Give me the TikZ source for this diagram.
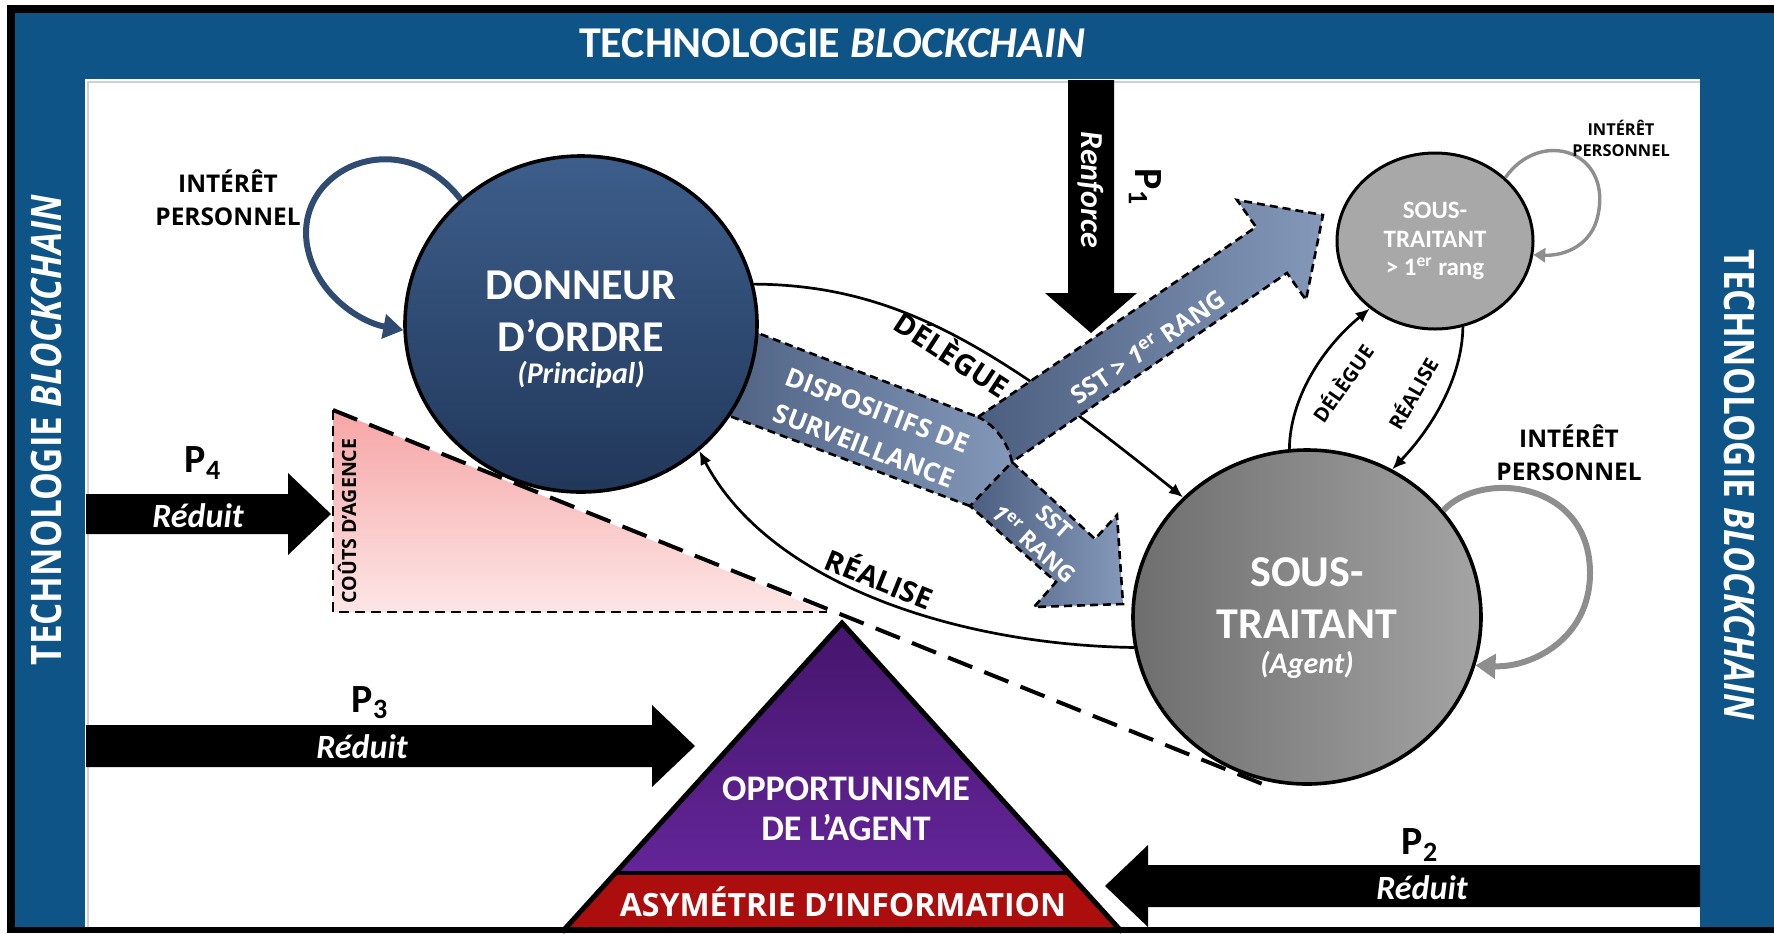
\documentclass[tikz,border=0pt]{standalone}
\usepackage{fontspec}
\setmainfont{Carlito}
\newfontfamily\opensans{Open Sans}
\usepackage{tikz}
\usetikzlibrary{positioning}
\usetikzlibrary{arrows.meta, shapes.geometric}

\definecolor{frameblue}{HTML}{0F5486}
\definecolor{donneurtop}{HTML}{3D5E8B}
\definecolor{donneurbot}{HTML}{21375A}
\definecolor{loopblue}{HTML}{2F4B72}
\definecolor{sstdark}{HTML}{4B5E7F}
\definecolor{sstlight}{HTML}{8498B9}
\definecolor{agentdark}{HTML}{6E6E6E}
\definecolor{agentlight}{HTML}{A4A4A4}
\definecolor{subgrey}{HTML}{A8A8A8}
\definecolor{loopgrey}{HTML}{8E8E8E}
\definecolor{pinkdark}{HTML}{F6A5A5}
\definecolor{pinklight}{HTML}{FDE6E6}
\definecolor{oppdark}{HTML}{45156C}
\definecolor{opplight}{HTML}{6B29A2}
\definecolor{asymred}{HTML}{AC0D0D}

\begin{document}
\begin{tikzpicture}[x=0.5pt, y=-0.5pt]

 \tikzset{
 	actor/.style={ellipse, draw=black, line width=1.8pt, inner sep=0pt},
 	actorname/.style={text=white, align=center, font=\bfseries\fontsize{22}{26}\selectfont},
 	actorrole/.style={text=white, font=\bfseries\itshape\fontsize{15}{18}\selectfont},
 	subname/.style={text=white, align=center, font=\bfseries\fontsize{12.5}{14.3}\selectfont},
 	relation/.style={line width=1.35pt, -{Latex[length=7pt, width=6pt]}},
 	relabel/.style={font=\opensans\bfseries\fontsize{14.5}{17}\selectfont},
 	smalllabel/.style={font=\opensans\bfseries\fontsize{10}{12}\selectfont},
 	selfloop/.style={line width=3pt, -{Triangle[length=10pt, width=12pt]}},
 	interest/.style={align=center, font=\opensans\bfseries\fontsize{12.2}{16.5}\selectfont},
 	blockarrow/.style={fill=black},
 	effect/.style={text=white, font=\bfseries\itshape\fontsize{17}{20}\selectfont},
 	proposition/.style={font=\bfseries\fontsize{20}{24}\selectfont},
 	sstarrow/.style={draw=black, line width=1.3pt, dash pattern=on 4pt off 2.5pt},
 	ssttext/.style={text=white, align=center, font=\opensans\bfseries\fontsize{13}{19}\selectfont},
 	sidetitle/.style={text=white, font=\opensans\bfseries\fontsize{17.5}{20}\selectfont}
 }

 \useasboundingbox (0,0) rectangle (1774,933);
 % frame
 \fill[black] (7,5) rectangle (1774,933);
 \fill[frameblue] (15,13) rectangle (1774,927);
 \fill[white] (85,79) rectangle (1700,927);
 \draw[black!18, line width=1pt] (88,927) -- (88,82) -- (1700,82);

 \node[text=white, font=\bfseries\fontsize{22}{26}\selectfont] (toptitle) at (832,43) {TECHNOLOGIE \textit{BLOCKCHAIN}};
 \node[sidetitle, rotate=90] (lefttitle) at (46,430) {\scalebox{1}[1.2]{TECHNOLOGIE \textit{BLOCKCHAIN}}};
 \node[sidetitle, rotate=-90] (righttitle) at (1740,485) {\scalebox{1}[1.2]{TECHNOLOGIE \textit{BLOCKCHAIN}}};

 % couts d'agence
 \coordinate (costtop) at (333,410);
 \coordinate (costleft) at (333,612);
 \coordinate (costright) at (827,612);
 \coordinate (costend) at (1265,785);
 \shade[top color=pinkdark, bottom color=pinklight] (costtop) -- (costleft) -- (costright) -- cycle;
 \draw[line width=1.2pt, dash pattern=on 5pt off 3pt] (costtop) -- (costleft) -- (costright);
 \node[rotate=90, font=\opensans\bfseries\fontsize{9.8}{11}\selectfont] (couts) at (347,521) {COÛTS D’AGENCE};

 % propositions
 \fill[blockarrow] (86,494) -- (288,494) -- (288,473) -- (331,514) -- (288,555) -- (288,534) -- (86,534) -- cycle;
 \node[effect] (p4effect) at (198,516) {Réduit};
 \node[proposition] (p4) at (203,463) {P\textsubscript{4}};

 \fill[blockarrow] (86,725) -- (652,725) -- (652,705) -- (695,746) -- (652,787) -- (652,767) -- (86,767) -- cycle;
 \node[effect] (p3effect) at (362,747) {Réduit};
 \node[proposition] (p3) at (370,703) {P\textsubscript{3}};

 \fill[blockarrow] (1700,865) -- (1148,865) -- (1148,845) -- (1105,886) -- (1148,927) -- (1148,907) -- (1700,907) -- cycle;
 \node[effect] (p2effect) at (1422,888) {Réduit};
 \node[proposition] (p2) at (1420,845) {P\textsubscript{2}};

 % opportunisme
 \coordinate (oppapex) at (842,623);
 \coordinate (oppleft) at (562,932);
 \coordinate (oppright) at (1122,932);
 \shade[top color=oppdark, bottom color=opplight] (oppapex) -- (oppleft) -- (oppright) -- cycle;
 \fill[asymred] (615.5,873) -- (1068.5,873) -- (oppright) -- (oppleft) -- cycle;
 \draw[line width=2pt] (615.5,873) -- (1068.5,873);
 \draw[line width=2.5pt] (oppleft) -- (oppapex) -- (oppright);
 \node[text=white, align=center, font=\bfseries\fontsize{18}{20}\selectfont] (opportunisme) at (846,809) {OPPORTUNISME\\DE L’AGENT};
 \node[text=white, font=\opensans\bfseries\fontsize{16}{18}\selectfont] (asymetrie) at (843,902) {ASYMÉTRIE D’INFORMATION};

 % dispositifs de surveillance
 \coordinate (bandA) at (700,311);
 \coordinate (bandB) at (978,417);
 \coordinate (bandC) at (1012,462);
 \coordinate (bandD) at (970,506);
 \coordinate (bandE) at (700,405);
 \shade[left color=sstdark, right color=sstlight] (bandA) -- (bandB) .. controls (996,426) and (1008,443) .. (bandC) -- (bandD) -- (bandE) -- cycle;
 \draw[sstarrow] (bandA) -- (bandB);
 \draw[sstarrow] (bandD) -- (bandE);

 % acteurs
 \node[actor, top color=donneurtop, bottom color=donneurbot, minimum width=176pt, minimum height=168pt] (donneur) at (581,324) {};
 \node[actorname] (donneurname) at (581,311) {DONNEUR\\D’ORDRE};
 \node[actorrole] (donneurrole) at (581,375) {(Principal)};

 \node[actor, left color=agentdark, right color=agentlight, minimum width=174pt, minimum height=167pt] (agent) at (1307,617) {};
 \node[actorname] (agentname) at (1307,598) {SOUS-\\TRAITANT};
 \node[actorrole] (agentrole) at (1307,665) {(Agent)};

 \node[actor, line width=1.5pt, fill=subgrey, minimum width=98pt, minimum height=88pt] (subagent) at (1435,241) {};
 \node[subname] (subagentname) at (1435,241) {SOUS-\\TRAITANT\\> 1\textsuperscript{er} rang};

 % interet personnel
 \draw[loopblue, selfloop] (donneur.134) .. controls (400,120) and (290,170) .. (308,250) .. controls (318,295) and (360,322) .. (donneur.182);
 \node[interest] (donneurinterest) at (228,198) {INTÉRÊT\\PERSONNEL};

 \draw[loopgrey, selfloop] (agent.38) .. controls (1480,470) and (1590,480) .. (1590,573) .. controls (1590,640) and (1530,668) .. (agent.-16);
 \node[interest] (agentinterest) at (1569,453) {INTÉRÊT\\PERSONNEL};

 \draw[loopgrey, line width=1.7pt, -{Triangle[length=6pt, width=7pt]}] (subagent.42) .. controls (1540,128) and (1612,150) .. (1598,215) .. controls (1592,245) and (1565,256) .. (subagent.-8);
 \node[interest, font=\opensans\bfseries\fontsize{8.2}{10.5}\selectfont] (subinterest) at (1621,138) {INTÉRÊT\\PERSONNEL};

 % delegue / realise
 \draw[relation] (donneur.13) .. controls (900,285) and (1000,350) .. (agent.136);
 \node[relabel, rotate=-33] (delegue) at (953,353) {DÉLÈGUE};
 \draw[relation] (agent.190) .. controls (960,645) and (770,585) .. (donneur.-47);
 \node[relabel, rotate=-22] (realise) at (880,577) {RÉALISE};

 \draw[relation] (agent.96) .. controls (1290,400) and (1320,350) .. (subagent.226);
 \node[smalllabel, rotate=55] (subdelegue) at (1342,383) {DÉLÈGUE};
 \draw[relation] (subagent.-72) .. controls (1462,380) and (1430,430) .. (agent.60);
 \node[smalllabel, rotate=60] (subrealise) at (1412,393) {RÉALISE};

 % fleches sst
 \draw[sstarrow, left color=sstdark, right color=sstlight] (bandB) -- (1256,227) -- (1237,200) -- (1323,215) -- (1306,300) -- (1287,273) -- (bandC) .. controls (1008,443) and (996,426) .. (bandB) -- cycle;
 \draw[sstarrow, left color=sstdark, right color=sstlight] (bandC) -- (1095,539) -- (1117,515) -- (1123,604) -- (1034,607) -- (1056,582) -- (bandD) -- cycle;
 \node[ssttext, rotate=-21] (surveillance) at (871,428) {DISPOSITIFS DE\\SURVEILLANCE};
 \node[ssttext, font=\opensans\bfseries\fontsize{12.5}{15}\selectfont, rotate=34.5] (sstupper) at (1148,347) {SST > \textit{1}\textsuperscript{er} RANG};
 \node[ssttext, font=\opensans\bfseries\fontsize{11.5}{15}\selectfont, rotate=-42] (sstfirst) at (1044,533) {SST\\\textit{1}\textsuperscript{er} RANG};

 \draw[line width=2pt, dash pattern=on 13pt off 6.5pt] (costtop) -- (costend);

 % renforce
 \fill[blockarrow] (1068,80) -- (1068,293) -- (1045,293) -- (1091,333) -- (1137,293) -- (1114,293) -- (1114,80) -- cycle;
 \node[effect, rotate=-90, font=\bfseries\itshape\fontsize{16}{18}\selectfont] (p1effect) at (1091,190) {Renforce};
 \node[proposition, rotate=-90] (p1) at (1145,187) {P\textsubscript{1}};

 \fill[black] (7,927) rectangle (1774,933);
\end{tikzpicture}
\end{document}
